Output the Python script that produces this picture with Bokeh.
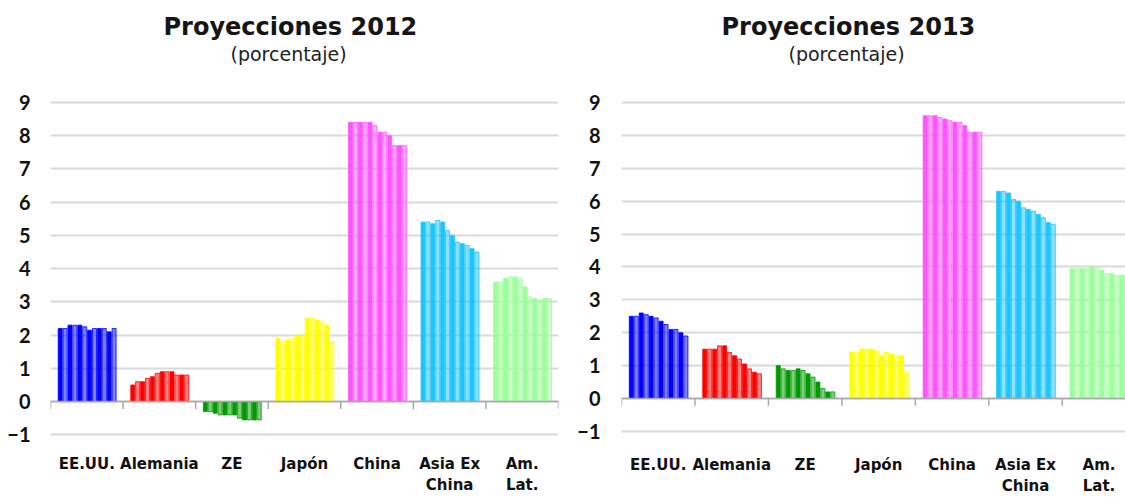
from bokeh.plotting import figure
from bokeh.layouts import row
from bokeh.models import Title, FixedTicker, Range1d, ColumnDataSource, Span
from bokeh.embed import file_html
from bokeh.resources import INLINE

groups = ["EE.UU.", "Alemania", "ZE", "Japón", "China", "Asia Ex\nChina", "Am.\nLat."]
colors = ["#0000FF", "#FF0000", "#009A00", "#FFFF00", "#FF55FF", "#1AC6FF", "#9CFF9C"]

# Proyecciones 2012 (monthly consensus, %)
usa_2012 = [2.2, 2.2, 2.3, 2.3, 2.3, 2.25, 2.15, 2.2, 2.2, 2.2, 2.1, 2.2]
ger_2012 = [0.5, 0.6, 0.6, 0.7, 0.75, 0.85, 0.9, 0.9, 0.9, 0.8, 0.8, 0.8]
ze_2012 = [-0.3, -0.3, -0.35, -0.4, -0.4, -0.4, -0.4, -0.5, -0.55, -0.55, -0.55, -0.55]
jpn_2012 = [1.9, 1.8, 1.85, 1.9, 2.0, 2.0, 2.5, 2.5, 2.45, 2.4, 2.3, 1.8]
chn_2012 = [8.4, 8.4, 8.4, 8.4, 8.4, 8.3, 8.1, 8.1, 8.0, 7.7, 7.7, 7.7]
asia_2012 = [5.4, 5.4, 5.35, 5.45, 5.4, 5.15, 5.0, 4.8, 4.75, 4.7, 4.6, 4.5]
lat_2012 = [3.6, 3.6, 3.7, 3.75, 3.75, 3.7, 3.45, 3.15, 3.1, 3.05, 3.1, 3.1]

# Proyecciones 2013
usa_2013 = [2.5, 2.5, 2.6, 2.55, 2.5, 2.45, 2.35, 2.25, 2.1, 2.1, 2.0, 1.9]
ger_2013 = [1.5, 1.5, 1.5, 1.6, 1.6, 1.4, 1.3, 1.2, 1.05, 0.9, 0.8, 0.75]
ze_2013 = [1.0, 0.9, 0.85, 0.85, 0.9, 0.85, 0.75, 0.65, 0.5, 0.3, 0.2, 0.2]
jpn_2013 = [1.4, 1.4, 1.5, 1.5, 1.5, 1.45, 1.3, 1.4, 1.35, 1.3, 1.3, 0.8]
chn_2013 = [8.6, 8.6, 8.6, 8.55, 8.5, 8.45, 8.4, 8.4, 8.3, 8.1, 8.1, 8.1]
asia_2013 = [6.3, 6.3, 6.25, 6.05, 6.0, 5.8, 5.75, 5.7, 5.6, 5.5, 5.35, 5.3]
lat_2013 = [3.95, 3.95, 3.95, 3.95, 4.0, 4.0, 3.9, 3.8, 3.8, 3.75, 3.75, 3.75]

y_ticks = list(range(-1, 10))

series_2012 = [usa_2012, ger_2012, ze_2012, jpn_2012, chn_2012, asia_2012, lat_2012]
series_2013 = [usa_2013, ger_2013, ze_2013, jpn_2013, chn_2013, asia_2013, lat_2013]

TFONT = "DejaVu Sans"


def make_panel(title, series, width, border_left, border_right, x_end,
               y_start, y_end, b_bottom, label_standoff, y_standoff,
               title_off, sub_off):
    p = figure(width=width, height=498, output_backend="svg", toolbar_location=None,
               x_range=Range1d(0, x_end), y_range=Range1d(y_start, y_end),
               min_border_left=border_left, min_border_right=border_right,
               min_border_top=65, min_border_bottom=b_bottom)
    p.title.text = title
    p.title.align = "left"
    p.title.offset = title_off
    p.title.text_font = TFONT
    p.title.text_font_style = "bold"
    p.title.text_font_size = "24px"
    p.title.text_color = "#151515"
    p.title.standoff = 0
    p.add_layout(Title(text="(porcentaje)", align="left", offset=sub_off,
                       text_font=TFONT, text_font_style="normal",
                       text_font_size="19px", text_color="#222222", standoff=1), "above")

    xs, tops, fills, alphas = [], [], [], []
    n = len(series[0])
    slot = 0.81 / n
    for gi, vals in enumerate(series):
        for j, v in enumerate(vals):
            xs.append(gi + 0.1 + (j + 0.5) * slot)
            tops.append(v)
            fills.append(colors[gi])
            alphas.append(1.0 if j % 2 == 0 else 0.5)
    src = ColumnDataSource(dict(x=xs, top=tops, fill=fills, alpha=alphas))
    p.vbar(x="x", top="top", bottom=0, width=slot * 0.82, source=src,
           fill_color="fill", fill_alpha="alpha", line_color="fill", line_width=0.8)

    p.add_layout(Span(location=0, dimension="width", line_color="#a8a8a8", line_width=1.5))
    bounds = list(range(len(series) + 1))
    p.segment(x0=bounds, y0=[0] * len(bounds), x1=bounds, y1=[-0.22] * len(bounds),
              line_color="#a8a8a8", line_width=1.5)

    p.yaxis.ticker = FixedTicker(ticks=y_ticks)
    p.ygrid.ticker = FixedTicker(ticks=y_ticks)
    p.ygrid.grid_line_color = "#d9d9d9"
    p.ygrid.grid_line_width = 2
    p.xgrid.grid_line_color = None
    p.yaxis.axis_line_color = None
    p.yaxis.major_tick_line_color = None
    p.yaxis.minor_tick_line_color = None
    p.yaxis.major_label_text_font = "Lato"
    p.yaxis.major_label_text_font_style = "bold"
    p.yaxis.major_label_text_font_size = "20px"
    p.yaxis.major_label_text_color = "#111111"
    p.yaxis.major_label_standoff = y_standoff

    centers = [i + 0.5 for i in range(len(groups))]
    p.xaxis.ticker = FixedTicker(ticks=centers)
    p.xaxis.major_label_overrides = {c: g for c, g in zip(centers, groups)}
    p.xaxis.axis_line_color = None
    p.xaxis.major_tick_line_color = None
    p.xaxis.minor_tick_line_color = None
    p.xaxis.major_label_text_font = TFONT
    p.xaxis.major_label_text_font_style = "bold"
    p.xaxis.major_label_text_font_size = "15px"
    p.xaxis.major_label_text_color = "#111111"
    p.xaxis.major_label_standoff = label_standoff
    p.outline_line_color = None
    return p


p1 = make_panel("Proyecciones 2012", series_2012, 560, 50, 2, 7.0,
                -1.23, 10.11, 46, 6, 14, 113, 180)
p2 = make_panel("Proyecciones 2013", series_2013, 565, 61, 0, 6.86,
                -1.34, 10.13, 48, 7, 15, 100, 167)

layout = row(p1, p2)
open("out.html", "w").write(file_html(layout, INLINE))
